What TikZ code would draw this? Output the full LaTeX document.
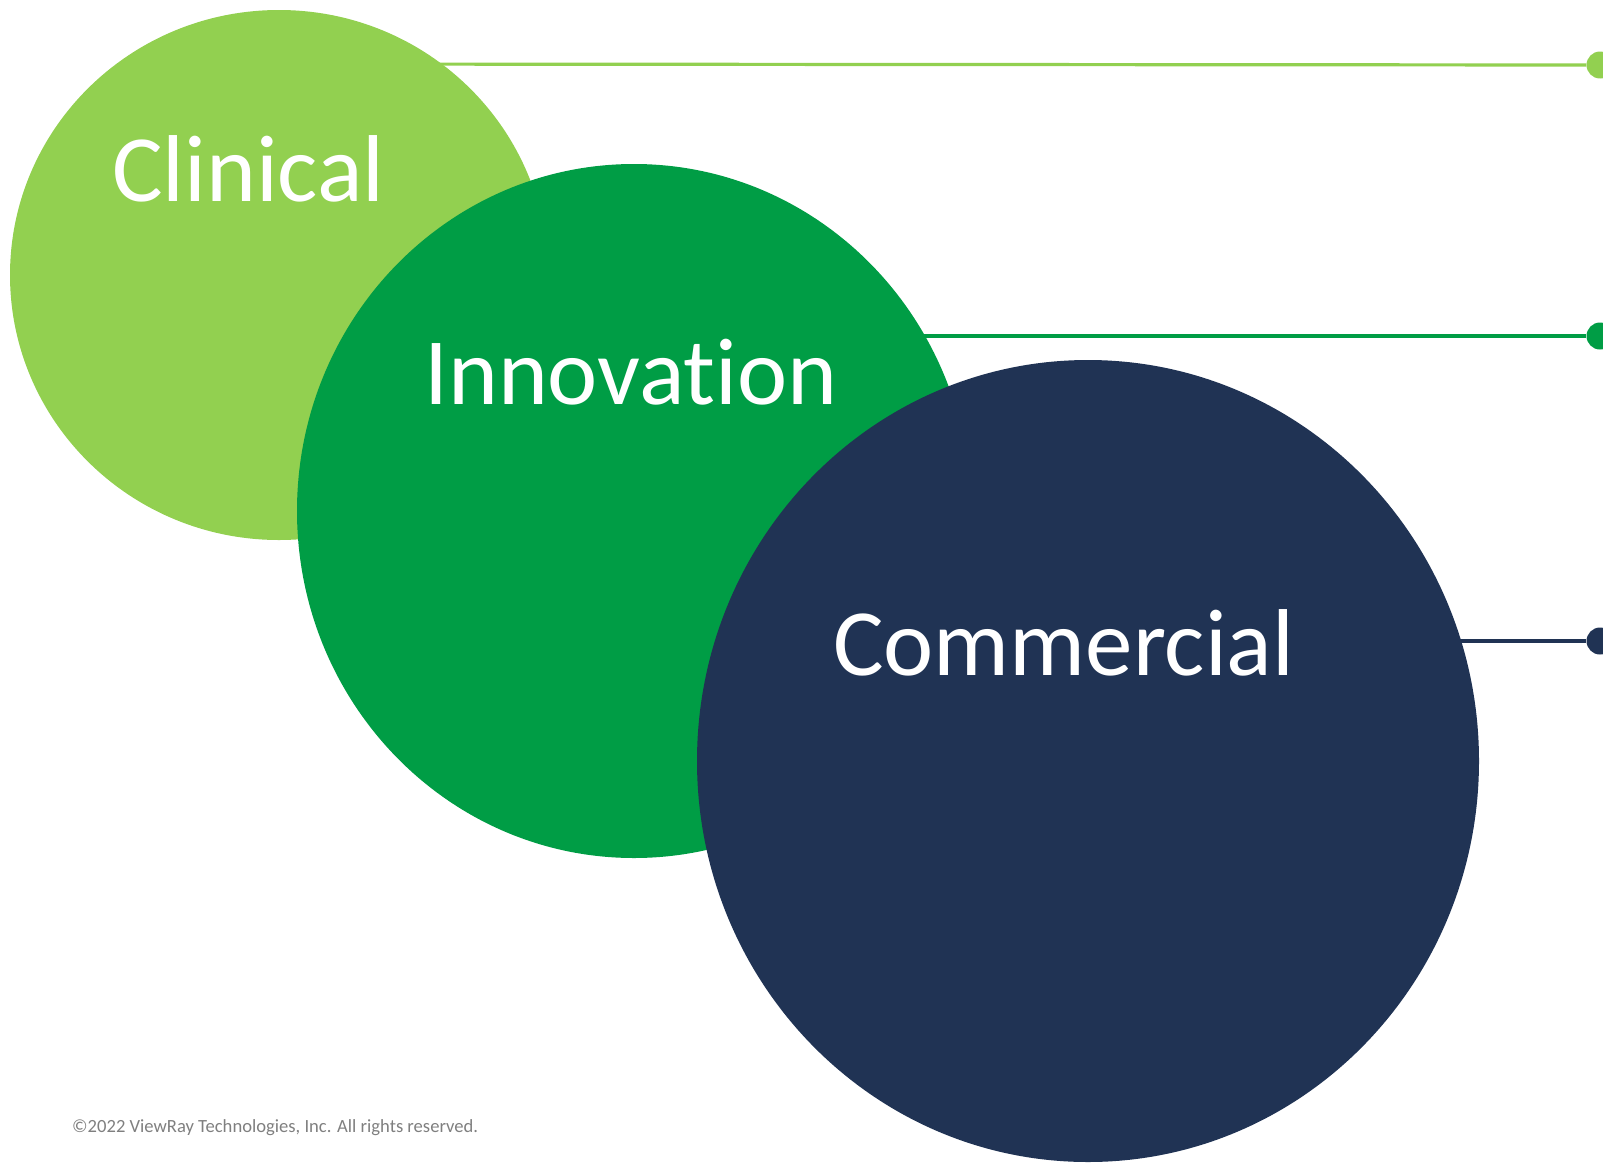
\documentclass[tikz,border=0pt]{standalone}
\usepackage{fontspec}
\setmainfont{Carlito}[Ligatures=NoCommon]
\usetikzlibrary{shapes.geometric}

\definecolor{clingreen}{HTML}{92D050}
\definecolor{innogreen}{HTML}{009D45}
\definecolor{commnavy}{HTML}{203354}
\definecolor{notegray}{HTML}{7F7F7F}

\tikzset{
  bubble/.style={ellipse, inner sep=0pt, draw=none},
  bubbletext/.style={anchor=base west, inner sep=0pt, text=white,
    font=\fontsize{95}{95}\selectfont},
  pin/.style={circle, inner sep=0pt, minimum size=27pt},
  pinline/.style={line width=3.2pt}
}

\begin{document}
\begin{tikzpicture}[x=1pt,y=-1pt]
  \useasboundingbox (0,0) rectangle (1603,1162);
  \def\xdot{1600} % dots sit on the right edge

  % dots and leader lines (drawn first, the bubbles cover their left ends)
  \node[pin, fill=clingreen] (d1) at (\xdot,65) {};
  \node[pin, fill=innogreen] (d2) at (\xdot,336) {};
  \node[pin, fill=commnavy]  (d3) at (\xdot,641) {};
  \coordinate (c1) at (279,64);
  \coordinate (c2) at (634,336);
  \coordinate (c3) at (1088,641);
  \draw[pinline, clingreen] (c1) -- (d1);
  \draw[pinline, innogreen] (c2) -- (d2);
  \draw[pinline, commnavy]  (c3) -- (d3);

  % bubbles, back to front
  \node[bubble, fill=clingreen, minimum width=538pt, minimum height=530pt] (clin) at (279,275) {};
  \node[bubble, fill=innogreen, minimum width=674pt, minimum height=694pt] (inno) at (634,511) {};
  \node[bubble, fill=commnavy,  minimum width=782pt, minimum height=802pt] (comm) at (1088,761) {};

  % names
  \node[bubbletext] (clintext) at (112,201) {Clinical};
  \node[bubbletext] (innotext) at (424,404) {Innovation};
  \node[bubbletext] (commtext) at (833,675) {Commercial};

  % footer
  \node[anchor=base west, inner sep=0pt, text=notegray,
    font=\fontsize{18.6}{18.6}\selectfont] (note) at (72,1132)
    {©2022 ViewRay Technologies, Inc. All rights reserved.};
\end{tikzpicture}
\end{document}
